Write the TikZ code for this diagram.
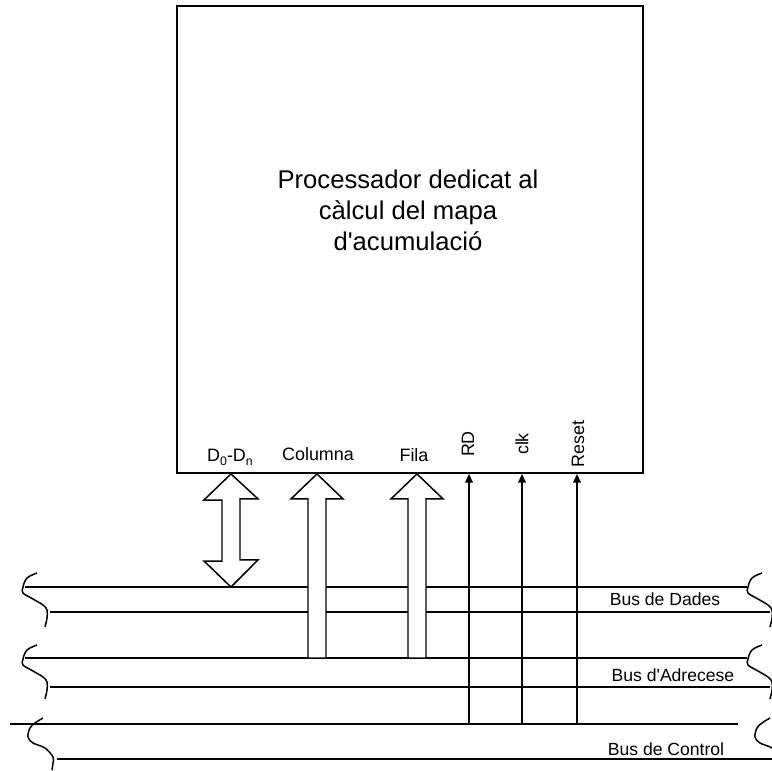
\documentclass[tikz,border=0pt]{standalone}
\usepackage{fontspec}
\setmainfont{Liberation Sans}
\usetikzlibrary{arrows.meta,positioning,calc}

\tikzset{
  procbox/.style={draw, line width=1.1pt, minimum width=9.32cm, minimum height=9.34cm, inner sep=0pt},
  busline/.style={line width=0.85pt},
  wire/.style={line width=0.85pt, -{Triangle[length=5pt,width=4.4pt]}},
  blockarrow/.style={draw, line width=0.85pt, fill=white, line join=miter},
  squiggle/.style={line width=0.85pt},
  lbl/.style={font=\fontsize{10.2}{12}\selectfont, inner sep=0pt},
  vlbl/.style={lbl, rotate=90},
  buslbl/.style={font=\fontsize{10}{12}\selectfont, inner sep=0pt, anchor=base}
}

% wavy brace at the end of a bus
\newcommand\busbrace[2]{%
  \draw[squiggle, shift={(#1,#2)}] plot[smooth, tension=0.6]
    coordinates {(14,-14) (4,-9) (0,0) (0,6) (10,12) (20,18) (24,23) (24,31) (22,40)};}
\newcommand\ctrlbrace[2]{%
  \draw[squiggle, shift={(#1,#2)}] plot[smooth, tension=0.6]
    coordinates {(15,-19) (7,-14) (2,-9) (0,0) (5,6) (17,11) (25,20) (25,26) (24,33)};}
\newcommand\sub[1]{\raisebox{-0.45ex}{\fontsize{7}{8}\selectfont #1}}

\begin{document}
\begin{tikzpicture}[x=0.02cm, y=-0.02cm]
    \useasboundingbox (0,0) rectangle (772,771);

    % Processor
    \node[procbox] (proc) at (410,239.5) {};
    \node[align=center, font=\fontsize{14.6}{17.6}\selectfont] (title) at (408,210)
      {Processador dedicat al\\càlcul del mapa\\d\textquotesingle acumulació};

    % Buses
    \coordinate (dadesA) at (25,587);  \coordinate (dadesB) at (747,587);
    \coordinate (dadesC) at (50,612);  \coordinate (dadesD) at (770,612);
    \coordinate (adrecA) at (25,658);  \coordinate (adrecB) at (747,658);
    \coordinate (adrecC) at (50,687);  \coordinate (adrecD) at (770,687);
    \coordinate (ctrlA) at (10,724);   \coordinate (ctrlB) at (738,724);
    \coordinate (ctrlC) at (57,759);   \coordinate (ctrlD) at (772,759);
    \draw[busline] (dadesA) -- (dadesB) (dadesC) -- (dadesD);
    \draw[busline] (adrecA) -- (adrecB) (adrecC) -- (adrecD);
    \draw[busline] (ctrlA) -- (ctrlB) (ctrlC) -- (ctrlD);
    \busbrace{23}{587} \busbrace{748}{587}
    \busbrace{23}{659} \busbrace{748}{659}
    \ctrlbrace{28}{737} \ctrlbrace{755}{737}

    \node[buslbl] (dades) at (665,605) {Bus de Dades};
    \node[buslbl] (adrec) at (673,681) {Bus d\textquotesingle Adrecese};
    \node[buslbl] (ctrl) at (666,755) {Bus de Control};

    % Port labels
    \node[lbl, anchor=base] (data) at (230,461) {D\sub{0}-D\sub{n}};
    \node[lbl, anchor=base] (col) at (318,460) {Columna};
    \node[lbl, anchor=base] (fila) at (414,461) {Fila};
    \node[vlbl] (rd) at (468,444) {RD};
    \node[vlbl] (clk) at (522,444) {clk};
    \node[vlbl] (reset) at (578,444) {Reset};

    % Block arrows
    \coordinate (dtop) at (231,0 |- proc.south);
    \coordinate (dbot) at (dtop |- dadesA);
    \draw[blockarrow] (dtop) -- ++(27,25) -- ++(-18,0) -- ++(0,61) -- ++(18,0) -- (dbot)
      -- ++(-27,-26) -- ++(18,0) -- ++(0,-61) -- ++(-18,0) -- cycle;
    \coordinate (ctop) at (317,0 |- proc.south);
    \draw[blockarrow] (ctop) -- ++(26,25) -- ++(-17,0) -- ($(ctop |- adrecA)+(9,0)$)
      -- ++(-18,0) -- ($(ctop)+(-9,25)$) -- ++(-17,0) -- cycle;
    \coordinate (ftop) at (417,0 |- proc.south);
    \draw[blockarrow] (ftop) -- ++(26,25) -- ++(-17,0) -- ($(ftop |- adrecA)+(9,0)$)
      -- ++(-18,0) -- ($(ftop)+(-9,25)$) -- ++(-17,0) -- cycle;

    % Control wires
    \draw[wire] ($(rd |- ctrlA)+(1,0)$) -- ($(rd |- proc.south)+(1,0)$);
    \draw[wire] (clk |- ctrlA) -- (clk |- proc.south);
    \draw[wire] ($(reset |- ctrlA)+(-1,0)$) -- ($(reset |- proc.south)+(-1,0)$);
\end{tikzpicture}
\end{document}
